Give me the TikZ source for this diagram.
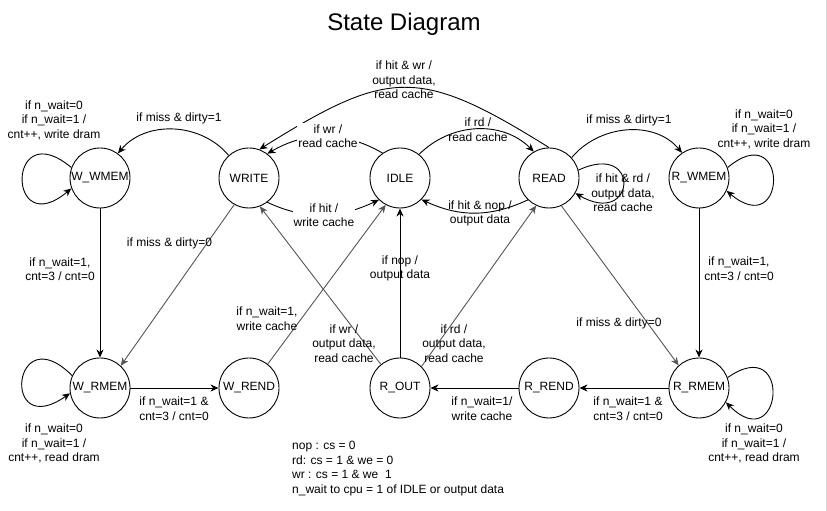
\documentclass[tikz,border=0pt]{standalone}
\usepackage{fontspec}
\setmainfont{Liberation Sans}
\usetikzlibrary{arrows.meta}
\definecolor{diag}{RGB}{85,85,85}
\definecolor{frame}{RGB}{218,218,218}
\begin{document}
\begin{tikzpicture}[x=1pt,y=1pt,
  state/.style={draw,circle,minimum size=60pt,inner sep=0pt,line width=0.9pt,fill=white,font=\fontsize{12}{14.5}\selectfont},
  edge/.style={-{Stealth[length=8pt,width=7pt,inset=2.5pt]},line width=0.9pt},
  gedge/.style={edge,color=diag},
  lbl/.style={align=center,inner sep=0pt,font=\fontsize{12}{14.5}\selectfont},
  wlbl/.style={lbl,fill=white,inner sep=1pt},
]
\useasboundingbox (0,0) rectangle (827,511);
\draw[frame,line width=1pt] (826,0) -- (826,511);

\node[font=\fontsize{24}{28}\selectfont,inner sep=0pt] (title) at (404,487) {State Diagram};

\node[state] (wwmem) at (100,333) {W\_WMEM};
\node[state] (write) at (249,333) {WRITE};
\node[state] (idle)  at (400,333) {IDLE};
\node[state] (read)  at (549,333) {READ};
\node[state] (rwmem) at (699,333) {R\_WMEM};
\node[state] (wrmem) at (100,123) {W\_RMEM};
\node[state] (wrend) at (249,123) {W\_REND};
\node[state] (rout)  at (400,123) {R\_OUT};
\node[state] (rrend) at (549,123) {R\_REND};
\node[state] (rrmem) at (699,123) {R\_RMEM};

% curved edges
\draw[edge] (write.132) to[out=130,in=50] (wwmem.54);
\draw[edge] (idle.125) to[out=150,in=30] (write.53);
\draw[edge] (write.-53) to[out=-25,in=-155] (idle.-134);
\draw[edge] (read.90) to[out=148,in=32,looseness=1.35] (write.70);
\draw[edge] (idle.51) to[out=45,in=135] (read.120);
\draw[edge] (read.-134) to[out=-155,in=-25] (idle.-45);
\draw[edge] (read.42) to[out=50,in=130] (rwmem.124);

% self loops
\draw[edge] (read.15) .. controls +(25:70) and +(-30:70) .. (read.-30);
\draw[edge] (rwmem.20) .. controls +(40:80) and +(-40:80) .. (rwmem.-25);
\draw[edge] (wwmem.160) .. controls +(140:85) and +(220:85) .. (wwmem.200);
\draw[edge] (wrmem.156) .. controls +(135:85) and +(215:85) .. (wrmem.190);
\draw[edge] (rrmem.20) .. controls +(35:80) and +(-45:80) .. (rrmem.-28);

% straight edges
\draw[edge] (wwmem) -- (wrmem);
\draw[gedge] (write.-119) -- (wrmem.47);
\draw[edge] (wrmem) -- (wrend);
\draw[gedge] (wrend.52) -- (idle.-118);
\draw[gedge] (rout.129) -- (write.-69);
\draw[edge] (rout) -- (idle);
\draw[gedge] (rout.45) -- (read.-115);
\draw[gedge] (read.-66) -- (rrmem.132);
\draw[edge] (rwmem) -- (rrmem);
\draw[edge] (rrmem) -- (rrend);
\draw[edge] (rrend) -- (rout);

% labels
\node[lbl] (l1) at (54,391) {if n\_wait=0\\if n\_wait=1 /\\cnt++, write dram};
\node[lbl] (l2) at (179,393) {if miss \& dirty=1};
\node[wlbl] (l3) at (328,375) {if wr /\\read cache};
\node[wlbl] (l4) at (324,296) {if hit /\\write cache};
\node[lbl] (l5) at (404,431) {if hit \& wr /\\output data,\\read cache};
\node[lbl] (l6) at (478,381.5) {if rd /\\read cache};
\node[lbl] (l7) at (480,297.5) {if hit \& nop /\\output data};
\node[lbl] (l8) at (623,318) {if hit \& rd /\\output data,\\read cache};
\node[lbl] (l9) at (629,391) {if miss \& dirty=1};
\node[lbl] (l10) at (764,382) {if n\_wait=0\\if n\_wait=1 /\\cnt++, write dram};
\node[lbl] (l11) at (60,242) {if n\_wait=1,\\cnt=3 / cnt=0};
\node[lbl] (l12) at (169.5,268) {if miss \& dirty=0};
\node[lbl] (l13) at (174,102.5) {if n\_wait=1 \&\\cnt=3 / cnt=0};
\node[lbl] (l14) at (267,192.5) {if n\_wait=1,\\write cache};
\node[lbl] (l15) at (344,167.5) {if wr /\\output data,\\read cache};
\node[lbl] (l16) at (400,242.5) {if nop /\\output data};
\node[lbl] (l17) at (454,167.5) {if rd /\\output data,\\read cache};
\node[lbl] (l18) at (619,188) {if miss \& dirty=0};
\node[lbl] (l19) at (739,242.5) {if n\_wait=1,\\cnt=3 / cnt=0};
\node[lbl] (l20) at (482,102.5) {if n\_wait=1/\\write cache};
\node[lbl] (l21) at (628,102.5) {if n\_wait=1 \&\\cnt=3 / cnt=0};
\node[lbl] (l22) at (754,67.5) {if n\_wait=0\\if n\_wait=1 /\\cnt++, read dram};
\node[lbl] (l23) at (54,67.5) {if n\_wait=0\\if n\_wait=1 /\\cnt++, read dram};
\node[lbl,align=left,anchor=west] (legend) at (292,42.5) {nop : cs = 0\\rd: cs = 1 \& we = 0\\wr : cs = 1 \& we\ \ 1\\n\_wait to cpu = 1 of IDLE or output data};
\end{tikzpicture}
\end{document}
